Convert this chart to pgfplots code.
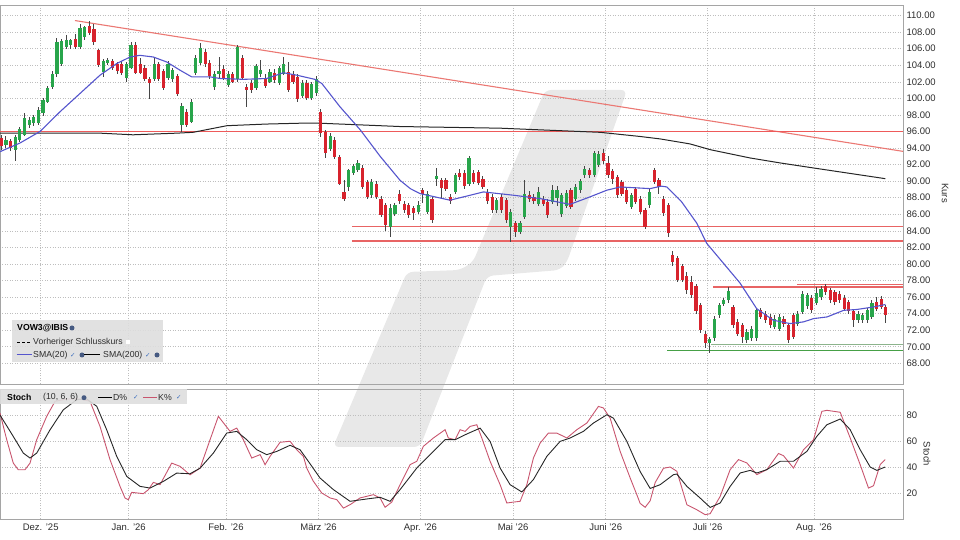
\documentclass[border=0pt]{standalone}
\usepackage{fontspec}
\setmainfont{Liberation Sans}
\newfontfamily\dejavu{DejaVu Sans}
\usepackage{pgfplots}
\usepackage{pgfplotstable}
\pgfplotsset{compat=1.18}
\definecolor{cgreen}{RGB}{40,165,75}
\definecolor{cred}{RGB}{215,35,45}
\definecolor{wick}{RGB}{70,70,70}
\definecolor{gridc}{RGB}{190,190,190}
\definecolor{framec}{RGB}{165,165,165}
\definecolor{smablue}{RGB}{85,85,205}
\definecolor{stochk}{RGB}{200,85,110}
\definecolor{lred}{RGB}{232,100,100}
\definecolor{bred}{RGB}{238,90,90}
\definecolor{trend}{RGB}{235,120,115}
\definecolor{sgreen}{RGB}{70,160,70}
\definecolor{sgreen2}{RGB}{140,180,140}
\definecolor{wm}{RGB}{232,232,232}
\definecolor{lgbg}{RGB}{222,222,222}
\definecolor{tickc}{RGB}{45,45,45}
\definecolor{chk}{RGB}{60,110,190}
\definecolor{globe}{RGB}{70,90,130}

\pgfplotstableread{
x o h l c
-7.5 94.4 95.4 94.0 95.0
-5.5 93.8 95.6 92.4 95.3
-4.5 95.0 96.6 94.7 96.3
-3.5 95.6 98.2 95.4 97.6
-2.5 96.8 97.8 96.4 97.4
-1.5 97.0 98.0 96.7 97.8
-0.5 97.0 99.0 96.8 98.6
0.5 98.2 100.0 97.9 99.8
1.5 99.6 101.5 99.4 101.2
2.5 101.4 103.3 101.1 102.9
3.5 102.9 107.3 102.6 106.8
4.5 104.2 107.2 103.9 106.9
5.5 106.2 107.6 106.0 107.0
6.5 106.4 107.2 106.0 107.0
8.5 106.2 109.0 106.0 108.5
9.5 107.4 108.8 107.0 108.6
13.5 103.2 104.8 102.6 104.5
14.5 104.3 104.9 104.0 104.6
18.5 102.5 104.4 102.0 104.1
19.5 103.7 106.8 103.5 106.5
24.5 102.3 104.9 102.1 104.1
27.5 102.5 104.5 102.2 104.1
28.5 102.3 103.7 102.0 103.4
30.5 96.8 99.4 96.0 99.1
32.5 97.2 99.9 97.0 99.6
33.5 103.1 105.2 102.8 104.9
34.5 104.3 106.7 104.0 106.1
37.5 101.4 103.3 101.0 103.0
38.5 103.0 105.0 102.3 103.3
40.5 101.6 103.3 101.4 103.0
42.5 102.3 106.4 102.0 106.2
46.5 101.2 104.1 101.0 103.9
47.5 103.0 104.6 102.6 103.4
49.5 102.0 103.5 101.8 103.2
51.5 101.9 103.9 101.6 103.7
52.5 103.0 105.0 102.8 104.2
56.5 100.3 102.2 100.0 101.9
58.5 100.0 102.0 99.8 101.7
59.5 100.6 102.7 100.3 102.4
62.5 93.9 95.8 93.6 95.5
66.5 89.3 91.5 88.8 91.3
67.5 91.0 92.1 90.7 91.8
68.5 91.4 92.6 91.1 92.2
71.5 88.3 90.3 88.0 89.9
75.5 84.5 87.2 83.3 86.7
76.5 86.0 87.4 85.8 87.1
81.5 86.3 87.6 86.0 87.1
83.5 86.3 88.8 86.0 88.5
85.5 90.3 91.6 89.4 90.6
89.5 88.7 91.0 88.4 90.7
92.5 89.7 93.0 89.4 92.8
98.5 86.5 88.0 86.2 87.7
101.5 84.5 86.6 82.7 86.3
103.5 83.9 85.2 83.6 84.9
104.5 85.7 90.1 85.4 88.5
107.5 87.3 89.3 87.0 88.7
110.5 87.5 89.5 87.2 88.9
111.5 88.0 89.4 87.0 88.9
112.5 86.0 88.6 85.7 88.3
113.5 87.0 88.9 86.7 88.6
115.5 87.9 89.6 87.6 89.3
116.5 88.9 90.3 88.6 90.0
117.5 90.7 91.8 90.4 91.5
119.5 90.8 93.7 90.5 93.4
120.5 92.0 93.6 91.7 93.3
127.5 86.9 88.6 86.6 88.3
131.5 87.1 89.0 86.8 88.7
144.5 70.4 71.2 69.3 70.9
145.5 71.0 73.7 70.7 73.4
146.5 73.8 75.3 73.5 75.0
147.5 75.2 75.9 74.9 75.65
148.5 75.6 77.2 75.3 76.7
152.5 70.8 72.1 70.5 71.8
153.5 71.0 72.5 70.7 72.2
154.5 71.0 74.7 70.7 74.4
158.5 72.4 73.8 72.1 73.4
159.5 72.2 73.9 71.9 73.6
163.5 72.8 74.3 72.5 74.0
164.5 74.2 76.7 73.9 76.4
165.5 74.9 76.5 74.6 76.2
167.5 75.3 77.2 75.0 76.5
168.5 76.0 77.3 75.7 77.0
176.5 73.2 74.3 72.9 74.0
177.5 73.2 74.1 72.9 73.8
178.5 73.2 74.7 72.9 74.4
179.5 73.6 75.6 73.3 75.3
}\upc

\pgfplotstableread{
x o h l c
-8.5 95.2 95.6 93.8 94.3
-6.5 94.8 95.1 93.6 94.0
7.5 107.2 107.8 106.0 106.2
10.5 108.8 109.3 107.6 107.9
11.5 108.4 109.0 106.4 106.8
12.5 105.8 106.0 103.8 104.0
15.5 104.5 104.8 103.4 103.7
16.5 104.1 104.4 103.0 103.3
17.5 104.1 104.5 102.8 103.1
20.5 106.5 106.8 102.9 103.1
21.5 104.1 104.9 102.9 103.1
22.5 103.7 104.0 102.1 102.3
23.5 102.3 102.6 99.9 101.9
25.5 104.1 104.4 102.1 102.3
26.5 103.3 103.6 101.0 101.3
29.5 102.7 103.0 100.3 100.5
31.5 98.4 98.7 96.6 96.8
35.5 105.6 106.0 103.8 104.1
36.5 104.3 104.6 102.4 102.7
39.5 103.6 104.0 102.2 102.5
41.5 102.9 103.2 101.8 102.0
43.5 104.9 105.2 102.2 102.5
44.5 101.4 101.7 99.0 101.0
45.5 101.8 102.2 100.7 101.0
48.5 102.3 103.0 101.2 101.5
50.5 103.1 103.5 101.9 102.2
53.5 103.2 104.4 100.8 101.0
54.5 103.0 103.3 101.7 102.0
55.5 102.6 102.9 99.6 99.9
57.5 101.9 102.2 99.8 100.0
60.5 98.4 98.7 95.3 95.8
61.5 95.9 96.2 92.8 93.4
63.5 95.0 95.3 92.7 92.95
64.5 92.9 93.2 89.5 89.7
65.5 88.7 90.1 87.6 87.8
69.5 91.6 91.9 89.1 89.3
70.5 89.9 90.2 87.9 88.1
72.5 89.7 90.0 87.9 88.1
73.5 87.9 88.2 85.7 85.9
74.5 87.1 87.4 84.0 84.7
77.5 88.4 88.9 87.3 87.6
78.5 87.3 87.6 86.2 86.5
79.5 87.1 87.4 85.5 85.9
80.5 86.7 87.0 85.3 86.1
82.5 88.9 89.2 87.4 88.5
84.5 87.9 88.2 85.0 85.3
86.5 90.1 90.4 88.0 89.2
87.5 90.1 90.4 88.8 89.1
88.5 88.1 88.5 87.3 87.6
90.5 91.0 91.5 90.2 90.5
91.5 91.0 91.3 89.1 89.4
93.5 90.95 91.3 89.6 89.9
94.5 91.1 91.4 89.5 89.8
95.5 90.3 90.6 89.0 89.3
96.5 88.7 89.0 87.3 87.6
97.5 88.1 88.4 86.2 86.5
99.5 88.1 88.4 86.2 86.5
100.5 87.7 88.0 85.0 85.3
102.5 84.9 85.2 83.3 83.9
105.5 88.3 88.8 87.5 87.9
106.5 88.1 88.4 87.3 87.6
108.5 87.9 88.2 87.0 87.3
109.5 87.5 87.8 85.6 85.9
114.5 88.9 89.2 86.6 86.9
118.5 91.3 91.6 90.4 90.7
121.5 93.4 93.9 92.1 92.4
122.5 92.2 93.0 90.4 90.7
123.5 91.2 91.5 89.7 90.3
124.5 90.5 90.8 88.0 88.3
125.5 89.9 90.2 88.2 88.5
126.5 88.9 89.2 87.2 87.5
128.5 89.0 89.3 87.2 87.5
129.5 87.9 88.2 86.0 86.3
130.5 86.5 86.8 84.2 84.5
132.5 91.3 91.6 89.6 89.9
133.5 90.1 90.4 88.5 89.3
134.5 87.9 88.2 85.8 86.1
135.5 87.1 87.4 83.3 83.7
136.5 81.1 81.6 79.8 80.2
137.5 80.7 81.0 77.8 78.1
138.5 79.7 80.0 77.8 78.1
139.5 78.6 79.0 76.4 76.8
140.5 77.8 78.6 75.9 76.2
141.5 77.3 77.6 74.0 74.3
142.5 75.0 75.3 71.6 72.0
143.5 71.6 71.9 69.9 70.4
149.5 74.8 75.1 72.3 72.6
150.5 73.0 73.3 71.3 71.6
151.5 72.6 72.9 70.4 71.2
155.5 74.4 74.7 73.3 73.6
156.5 74.0 74.3 72.9 73.2
157.5 73.6 73.9 72.3 72.6
160.5 73.4 73.7 72.4 72.8
161.5 72.6 72.9 70.5 70.8
162.5 73.8 74.1 70.9 71.2
166.5 75.9 76.2 74.1 74.4
169.5 77.3 77.6 76.3 76.6
170.5 76.8 77.1 75.3 75.6
171.5 76.6 76.9 75.1 75.4
172.5 76.4 76.7 75.3 75.6
173.5 75.9 76.2 74.3 74.6
174.5 75.4 75.7 74.0 74.3
175.5 74.3 74.6 72.4 73.2
180.5 75.4 76.0 74.3 74.6
181.5 75.8 76.1 74.5 74.8
182.5 74.8 75.1 72.9 73.8
}\downc

\pgfplotsset{
  base/.style={scale only axis, width=903pt, xmin=-8.79, xmax=186.2,
    axis line style={draw=framec, line width=0.8pt},
    major tick length=0pt,
    grid=major,
    major grid style={draw=gridc, line width=0.6pt, dash pattern=on 1pt off 1.5pt},
    yticklabel pos=right,
    ticklabel style={font=\fontsize{9.5}{11}\selectfont, text=tickc},
    xtick={0,19,40,60,82,102,122,144,167},
  },
  wickst/.style={draw=none, mark=none, forget plot,
    error bars/.cd, y dir=both, y explicit, error mark=none,
    error bar style={line width=1pt, draw=wick, solid}},
  bodyst/.style={draw=none, mark=none, forget plot,
    error bars/.cd, y dir=both, y explicit, error mark=none,
    error bar style={line width=3.2pt, draw=#1, solid}},
  hline/.style={draw=#1, solid, mark=none, forget plot},
}

\begin{document}
\begin{tikzpicture}
\path[use as bounding box] (0pt,0pt) rectangle (960pt,540pt);
% watermark
\fill[wm, rounded corners=6pt] (545pt,450pt) -- (627pt,450pt) -- (567pt,278pt) -- (560pt,270pt) -- (487pt,264pt) -- (420pt,93pt) -- (333pt,93pt) -- (407pt,268pt) -- (460pt,270pt) -- (473pt,278pt) -- cycle;

% main price panel
\begin{axis}[base, at={(0pt,156pt)}, anchor=south west, height=379pt,
  ymin=65.5, ymax=111.28,
  ytick={68,70,...,94,98,100,...,110}, extra y ticks={66,96}, extra y tick labels={,96.00},
  extra y tick style={grid=none},
  xticklabels={},
  yticklabel style={/pgf/number format/.cd, fixed, fixed zerofill, precision=2, 1000 sep={}, assume math mode=true},
]
% horizontal and trend lines
\addplot[hline=lred, line width=1.6pt] coordinates {(67.2,84.5) (186.2,84.5)};
\addplot[hline=lred, line width=1.6pt] coordinates {(67.2,82.75) (186.2,82.75)};
\addplot[hline=lred, line width=1.6pt] coordinates {(145.2,77.18) (186.2,77.18)};
\addplot[hline=lred, line width=1.3pt] coordinates {(163.3,77.55) (186.2,77.55)};
\addplot[hline=sgreen2, line width=1.3pt] coordinates {(144.8,70.3) (186.2,70.3)};
\addplot[hline=sgreen, line width=1.2pt] coordinates {(135.3,69.5) (186.2,69.5)};
\addplot[hline=trend, line width=1.1pt] coordinates {(7.4,109.4) (186.2,93.6)};
% 96 resistance line
\addplot[hline=bred, line width=1.8pt] coordinates {(-8.7,96.0) (186.1,96.0)};
% SMA200
\addplot[hline=black!85, line width=1pt] coordinates {(-8.79,95.8) (12.8,95.8) (19.9,95.6) (29.4,95.8) (32.9,95.9) (40.2,96.7) (48.8,96.9) (56.0,97.0) (60.3,97.0) (77.6,96.6) (99.2,96.4) (107.8,96.2) (120.8,95.9) (129.4,95.4) (133.8,95.1) (140.2,94.5) (144.6,93.8) (148.9,93.3) (153.2,92.8) (159.7,92.2) (166.8,91.6) (182.4,90.3)};
% candles: wicks
\addplot[wickst] table[x=x, y expr={(\thisrow{h}+\thisrow{l})/2}, y error expr={(\thisrow{h}-\thisrow{l})/2}] {\upc};
\addplot[wickst] table[x=x, y expr={(\thisrow{h}+\thisrow{l})/2}, y error expr={(\thisrow{h}-\thisrow{l})/2}] {\downc};
% candles: bodies
\addplot[bodyst=cgreen] table[x=x, y expr={(\thisrow{o}+\thisrow{c})/2}, y error expr={max(abs(\thisrow{c}-\thisrow{o})/2,0.07)}] {\upc};
\addplot[bodyst=cred] table[x=x, y expr={(\thisrow{o}+\thisrow{c})/2}, y error expr={max(abs(\thisrow{c}-\thisrow{o})/2,0.07)}] {\downc};
% SMA20
\addplot[hline=smablue, line width=1.1pt] coordinates {(-8.79,93.56) (-4.5,94.6) (-0.15,96.0) (4.2,98.4) (8.5,100.6) (12.8,102.8) (16.4,104.2) (19.3,105.0) (21.4,105.2) (24.3,105.0) (27.2,104.4) (30.1,103.4) (32.6,102.6) (36.6,102.6) (38.7,102.4) (43.8,102.3) (48.8,102.4) (52.4,103.1) (55.3,102.8) (59.2,102.3) (60.7,101.8) (64.6,99.0) (69.0,96.2) (73.3,93.0) (77.6,90.1) (79.8,89.1) (81.9,88.5) (88.4,87.7) (95.6,88.7) (102.1,88.3) (107.8,87.9) (114.3,87.2) (118.6,88.1) (122.2,88.9) (125.1,89.3) (131.6,89.1) (134.0,89.4) (135.2,89.3) (138.4,87.5) (141.7,84.9) (143.8,82.5) (147.4,80.1) (151.0,77.7) (154.6,74.6) (158.2,73.2) (161.8,72.8) (164.7,73.0) (166.9,73.4) (169.8,73.6) (173.4,74.4) (176.2,74.5) (179.8,74.8) (182.4,75.1)};
\end{axis}

% stochastic panel
\begin{axis}[base, at={(0pt,21pt)}, anchor=south west, height=130pt,
  ymin=0, ymax=100, ytick={20,40,60,80},
  yticklabel style={/pgf/number format/assume math mode=true},
  xticklabels={Dez. '25, Jan. '26, Feb. '26, März '26, Apr. '26, Mai '26, Juni '26, Juli '26, Aug. '26},
  xticklabel style={yshift=-1pt},
]
\addplot[hline=stochk, line width=0.9pt] coordinates {(-8.79,81.5) (-7.34,61) (-5.92,43) (-4.84,37.9) (-3.39,37.9) (-2.31,43) (-0.86,61) (1.30,79) (3.09,90.5) (5.62,92.3) (8.49,92.3) (10.65,90.5) (12.81,71.2) (14.97,45.6) (17.13,25.1) (18.21,16.1) (18.92,14.8) (19.65,20.5) (22.16,19.5) (23.24,22.5) (24.32,28.2) (25.77,26.4) (28.29,43) (30.09,40.5) (32.25,34) (34.41,39.1) (36.57,61) (38.36,79) (40.89,67.4) (42.33,69.9) (43.76,61) (45.57,46.9) (47.37,49.5) (48.45,41.8) (49.53,48.2) (51.69,59) (53.84,59.8) (55.29,53.3) (56.72,48.2) (57.45,39.2) (58.88,29) (60.69,20) (62.48,16.2) (63.93,14.9) (65.36,8.4) (66.80,11) (68.96,16.2) (71.84,18.7) (73.28,16.2) (74.36,9) (75.81,13) (77.60,26.4) (79.76,41.8) (81.21,44.4) (82.63,55.9) (84.79,62.3) (87.32,68.7) (88.03,62.3) (89.48,61) (90.56,68.7) (91.64,67.4) (92.72,71.2) (94.17,72.5) (95.25,62.3) (97.04,44.4) (99.20,26.4) (100.65,12.3) (102.07,13) (103.52,13.6) (104.97,26.4) (106.39,46.9) (107.84,58.4) (109.63,66.1) (111.45,66.1) (113.61,62.3) (115.77,68.7) (117.93,73.8) (120.43,86.6) (121.51,85.4) (122.96,77.6) (125.12,52) (127.28,31.6) (128.72,18.7) (129.44,12) (130.52,9) (131.60,14) (132.68,28) (134.47,39) (135.92,40) (137.37,36.7) (139.53,11) (141.69,7.1) (143.48,3.3) (144.56,4.1) (146.72,17.4) (148.88,38) (150.67,45.7) (152.49,43.1) (154.64,34.1) (156.80,38) (159.31,50.4) (160.39,48.7) (162.55,39.2) (164.71,53.3) (166.87,61) (168.68,82.8) (169.76,83.6) (172.64,82.1) (174.80,62.3) (176.95,41.8) (178.75,23.8) (179.83,25.6) (181.27,41.8) (182.35,45.7)};
\addplot[hline=black!85, line width=0.9pt] coordinates {(-8.79,80) (-5.92,63.5) (-3.76,50.7) (-2.31,46.9) (-0.86,50.7) (2.01,68.6) (4.88,84) (7.78,91.8) (9.94,92.3) (12.10,86.7) (14.25,68.6) (16.41,48.2) (18.57,32.8) (21.45,25.1) (23.61,23.8) (26.48,28.9) (29.37,35.3) (32.25,34.8) (34.41,39.1) (37.28,50.7) (40.17,66.1) (42.33,67.4) (44.49,61) (46.65,53.3) (48.81,49.5) (50.97,52) (53.84,56.7) (56.00,53.3) (58.16,42.5) (60.32,31.5) (63.20,22.6) (66.80,13.6) (70.41,15.4) (73.28,16.7) (75.44,13.6) (77.60,22.6) (81.21,39.2) (84.79,52) (87.32,61) (89.48,61) (92.01,65.4) (94.88,69.9) (97.04,59.7) (99.20,39.2) (101.36,26.4) (103.89,20.8) (106.39,30.3) (109.29,48.2) (112.16,59.7) (114.32,62.3) (117.19,67.4) (119.35,73.8) (122.25,80.2) (123.67,77.6) (126.57,59.7) (129.44,36.5) (131.60,23.5) (133.76,26.4) (136.63,34.1) (137.35,34.6) (139.53,25.1) (142.40,16.1) (144.56,8.9) (146.72,12.3) (148.88,25.1) (151.04,35.4) (153.20,37.4) (154.64,35.4) (156.80,38) (159.68,44.4) (162.55,44.4) (165.44,52) (167.60,63.6) (169.76,72.5) (172.64,76.9) (174.80,68.7) (176.95,53.3) (179.11,40) (180.56,37.4) (182.35,40)};
\end{axis}

% axis titles
\node[rotate=-90, font=\fontsize{9.5}{11}\selectfont, text=tickc] at (945pt,347pt) {Kurs};
\node[rotate=-90, font=\fontsize{9.5}{11}\selectfont, text=tickc] at (927pt,86pt) {Stoch};

% main legend
\fill[lgbg, opacity=0.9] (11.7pt,178.3pt) rectangle (163pt,220pt);
\begin{scope}[every node/.style={anchor=west, inner sep=0pt, font=\fontsize{8.7}{10}\selectfont, text=tickc}]
\node[font=\fontsize{8.7}{10}\selectfont\bfseries, text=black] at (17pt,212pt) {VOW3@IBIS};
\fill[globe] (72pt,212pt) circle (2.5pt);
\draw[black, line width=0.9pt, dash pattern=on 3pt off 2pt] (17pt,198pt) -- (30pt,198pt);
\node at (33pt,198pt) {Vorheriger Schlusskurs};
\fill[white] (126pt,196pt) rectangle (130pt,200pt);
\draw[smablue, line width=1pt] (16.7pt,185pt) -- (31.7pt,185pt);
\node at (33pt,185pt) {SMA(20)};
\node[font=\dejavu\fontsize{6.5}{8}\selectfont, text=chk] at (70pt,185pt) {✓};
\fill[globe] (82pt,185pt) circle (2.5pt);
\draw[black, line width=1pt] (84pt,185pt) -- (100pt,185pt);
\node at (103pt,185pt) {SMA(200)};
\node[font=\dejavu\fontsize{6.5}{8}\selectfont, text=chk] at (145pt,185pt) {✓};
\fill[globe] (157pt,185pt) circle (2.5pt);
\end{scope}

% stoch legend
\fill[lgbg, opacity=0.9] (0pt,136pt) rectangle (187pt,151pt);
\begin{scope}[every node/.style={anchor=west, inner sep=0pt, font=\fontsize{8.7}{10}\selectfont, text=tickc}]
\node[font=\fontsize{8.7}{10}\selectfont\bfseries, text=black] at (7pt,142.3pt) {Stoch};
\node at (43pt,142.3pt) {(10, 6, 6)};
\fill[globe] (84pt,142.3pt) circle (2.5pt);
\draw[black, line width=1pt] (98pt,142.3pt) -- (112pt,142.3pt);
\node at (113pt,142.3pt) {D\%};
\node[font=\dejavu\fontsize{6.5}{8}\selectfont, text=chk] at (133pt,142.3pt) {✓};
\draw[stochk, line width=1pt] (143pt,142.3pt) -- (157pt,142.3pt);
\node at (158pt,142.3pt) {K\%};
\node[font=\dejavu\fontsize{6.5}{8}\selectfont, text=chk] at (176pt,142.3pt) {✓};
\end{scope}
\end{tikzpicture}
\end{document}
